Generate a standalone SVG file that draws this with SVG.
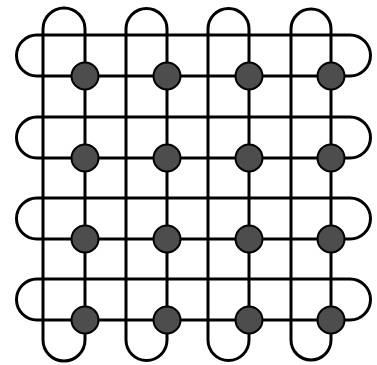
<svg xmlns="http://www.w3.org/2000/svg" width="377" height="365" viewBox="0 0 377 365">
<style>
.loop{fill:none;stroke:#000;stroke-width:3;stroke-linejoin:round}
.node{fill:#4d4d4d;stroke:#000;stroke-width:2}
</style>
<rect width="377" height="365" fill="#fff"/>
<g id="connectors">
<path class="loop" d="M43,340 V29 A21 21 0 0 1 85,29 V340 A21 21 0 0 1 43,340 Z"/>
<path class="loop" d="M126,340 V29 A20.5 20.5 0 0 1 167,29 V340 A20.5 20.5 0 0 1 126,340 Z"/>
<path class="loop" d="M208,340 V29 A20.5 20.5 0 0 1 249,29 V340 A20.5 20.5 0 0 1 208,340 Z"/>
<path class="loop" d="M291,340 V29 A20 20 0 0 1 331,29 V340 A20 20 0 0 1 291,340 Z"/>
<path class="loop" d="M350,35 H37 A20.5 20.5 0 0 0 37,76 H350 A20.5 20.5 0 0 0 350,35 Z"/>
<path class="loop" d="M350,117 H37 A20.5 20.5 0 0 0 37,158 H350 A20.5 20.5 0 0 0 350,117 Z"/>
<path class="loop" d="M350,198 H37 A20.5 20.5 0 0 0 37,239 H350 A20.5 20.5 0 0 0 350,198 Z"/>
<path class="loop" d="M350,279 H37 A20.5 20.5 0 0 0 37,320 H350 A20.5 20.5 0 0 0 350,279 Z"/>
</g>
<g id="n11"><circle class="node" cx="85" cy="76" r="13.5"/></g>
<g id="n12"><circle class="node" cx="167" cy="76" r="13.5"/></g>
<g id="n13"><circle class="node" cx="249" cy="76" r="13.5"/></g>
<g id="n14"><circle class="node" cx="331" cy="76" r="13.5"/></g>
<g id="n21"><circle class="node" cx="85" cy="158" r="13.5"/></g>
<g id="n22"><circle class="node" cx="167" cy="158" r="13.5"/></g>
<g id="n23"><circle class="node" cx="249" cy="158" r="13.5"/></g>
<g id="n24"><circle class="node" cx="331" cy="158" r="13.5"/></g>
<g id="n31"><circle class="node" cx="85" cy="239" r="13.5"/></g>
<g id="n32"><circle class="node" cx="167" cy="239" r="13.5"/></g>
<g id="n33"><circle class="node" cx="249" cy="239" r="13.5"/></g>
<g id="n34"><circle class="node" cx="331" cy="239" r="13.5"/></g>
<g id="n41"><circle class="node" cx="85" cy="320" r="13.5"/></g>
<g id="n42"><circle class="node" cx="167" cy="320" r="13.5"/></g>
<g id="n43"><circle class="node" cx="249" cy="320" r="13.5"/></g>
<g id="n44"><circle class="node" cx="331" cy="320" r="13.5"/></g>
</svg>
